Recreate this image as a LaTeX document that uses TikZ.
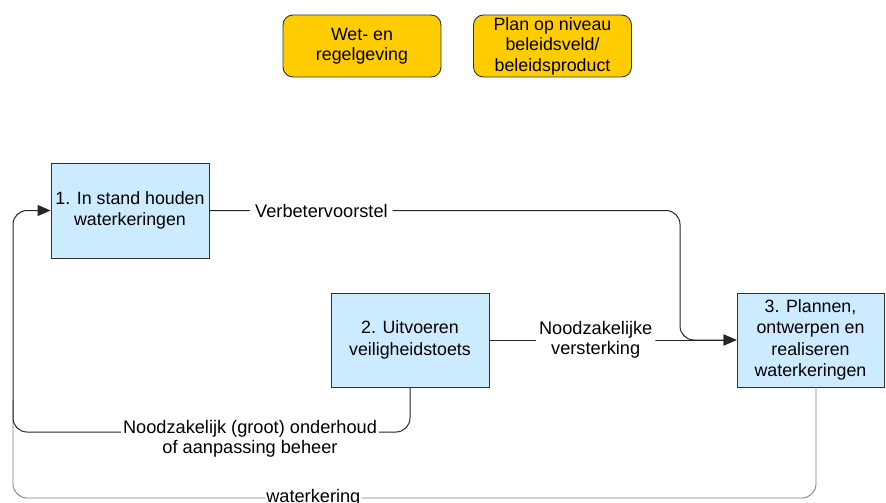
\documentclass[tikz,border=0pt]{standalone}
\usepackage{fontspec}
\setmainfont{Liberation Sans}
\usetikzlibrary{arrows.meta}
\definecolor{boxblue}{RGB}{204,235,255}
\definecolor{boxorange}{RGB}{255,204,0}
\definecolor{edge}{RGB}{50,50,50}
\tikzset{
  procbox/.style={draw=edge, line width=0.9pt, fill=boxblue, align=center, inner sep=0pt,
    font=\fontsize{17.8}{21.5}\selectfont},
  refbox/.style={draw=edge, line width=0.9pt, fill=boxorange, rounded corners=10pt, align=center,
    inner sep=0pt, font=\fontsize{17.8}{20.5}\selectfont},
  conn/.style={draw=black!85, line width=1pt, rounded corners=14pt},
  lightconn/.style={draw=black!50, line width=0.9pt, rounded corners=14pt},
  tip/.style={-{Triangle[length=13pt,width=11pt]}},
  lbl/.style={fill=white, align=center, inner sep=3pt, font=\fontsize{18.2}{20}\selectfont}
}
\begin{document}
\begin{tikzpicture}[x=1pt,y=-1pt]
\useasboundingbox (0,0) rectangle (886,503);
% reference boxes
\node[refbox, minimum width=158pt, minimum height=62pt] (wet) at (362,46) {Wet- en\\regelgeving};
\node[refbox, minimum width=158pt, minimum height=62pt] (plan) at (552.5,46) {Plan op niveau\\beleidsveld/\\beleidsproduct};
% process boxes
\node[procbox, minimum width=158pt, minimum height=95pt] (b1) at (130,210.5) {1. In stand houden\\waterkeringen};
\node[procbox, minimum width=158pt, minimum height=94pt] (b2) at (410,340) {2. Uitvoeren\\veiligheidstoets};
\node[procbox, minimum width=147pt, minimum height=94pt] (b3) at (810.5,340) {3. Plannen,\\ontwerpen en\\realiseren\\waterkeringen};
% connectors
\coordinate (c4a) at (816,387);
\draw[lightconn] (c4a) -- (816,498) -- node[lbl, pos=0.626, inner sep=1pt] {waterkering} (13,498) -- (13,400);
\draw[conn, tip] (b1.east) -- node[lbl, pos=0.238, inner xsep=5pt] {Verbetervoorstel} (680,210.5) -- (680,340) -- (b3.west);
\draw[conn, tip] (b2.east) -- node[lbl, pos=0.43] {Noodzakelijke\\versterking} (b3.west);
\draw[conn, tip] (b2.south) -- (410,432) -- node[lbl, pos=0.403, yshift=-7pt, inner sep=2pt] {Noodzakelijk (groot) onderhoud\\of aanpassing beheer} (13,432) -- (13,210.5) -- (b1.west);
\end{tikzpicture}
\end{document}
